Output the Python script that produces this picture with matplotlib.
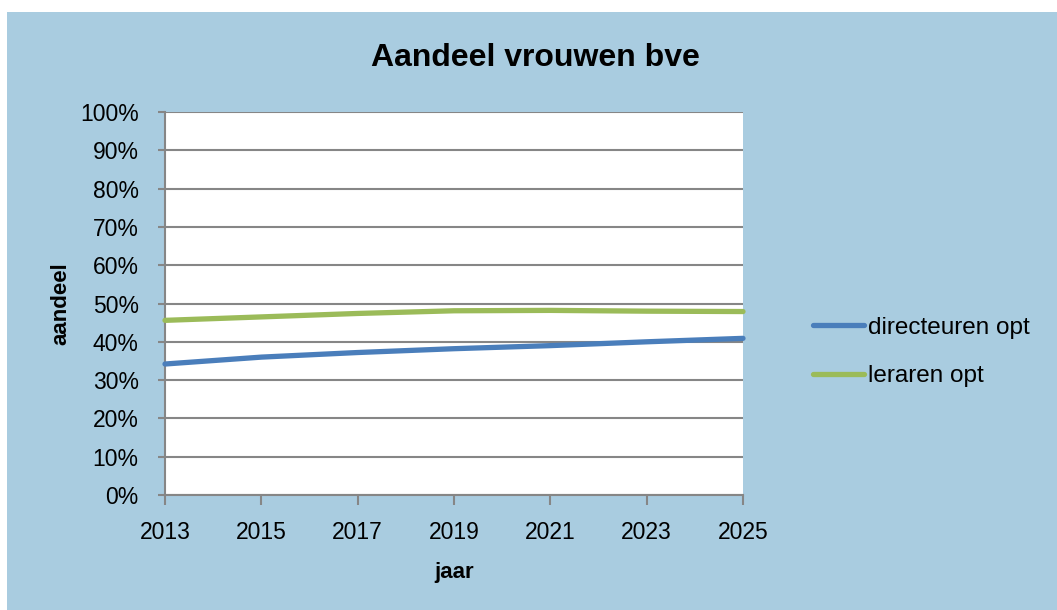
import matplotlib.pyplot as plt
from matplotlib.patches import Rectangle
from matplotlib.ticker import PercentFormatter

jaren = [2013, 2015, 2017, 2019, 2021, 2023, 2025]
directeuren = [34.2, 36.0, 37.2, 38.2, 39.0, 40.0, 40.9]
leraren = [45.6, 46.5, 47.4, 48.1, 48.2, 48.0, 47.9]
y_ticks = list(range(0, 101, 10))

bg = "#a9cce0"
grid = "#868686"

plt.rcParams["font.family"] = ["Liberation Sans", "DejaVu Sans"]
fig = plt.figure(figsize=(10.57, 6.10), dpi=100)
fig.patches.append(Rectangle((7 / 1057, 0), 1 - 7 / 1057, 1 - 12 / 610,
                             transform=fig.transFigure, facecolor=bg,
                             edgecolor="none", zorder=-10))

ax = fig.add_axes([165 / 1057, 1 - 495 / 610, (743 - 165) / 1057, (495 - 112) / 610])
ax.set_facecolor("white")

ax.plot(jaren, directeuren, color="#4a7ebb", lw=3.8, solid_capstyle="round",
        label="directeuren opt", zorder=3, clip_on=False)
ax.plot(jaren, leraren, color="#9bbb59", lw=3.8, solid_capstyle="round",
        label="leraren opt", zorder=3, clip_on=False)

ax.set_xlim(2013, 2025)
ax.set_ylim(0, 100)
ax.set_xticks(jaren)
ax.set_yticks(y_ticks)
ax.yaxis.set_major_formatter(PercentFormatter(decimals=0))
ax.grid(axis="y", color=grid, lw=1.5)
ax.set_axisbelow(True)
for s in ["top", "right"]:
    ax.spines[s].set_visible(False)
for s in ["left", "bottom"]:
    ax.spines[s].set_color(grid)
    ax.spines[s].set_linewidth(1.5)
ax.tick_params(axis="x", length=7, width=1.5, color=grid, labelsize=16.5, pad=12)
ax.tick_params(axis="y", length=5, width=1.5, color=grid, labelsize=16.5, pad=14)

ax.set_xlabel("jaar", fontsize=16, fontweight="bold", labelpad=13)
ax.set_ylabel("aandeel", fontsize=16, fontweight="bold", labelpad=6)
fig.text(535 / 1057, 1 - 58 / 610, "Aandeel vrouwen bve", fontsize=23,
         fontweight="bold", ha="center", va="center")

leg = fig.legend(loc="center left", bbox_to_anchor=(791 / 1057, 1 - 352 / 610),
                 frameon=False, fontsize=17.5, handlelength=2.1, handletextpad=0.15,
                 labelspacing=1.1)

fig.savefig("out.png", dpi=100)
